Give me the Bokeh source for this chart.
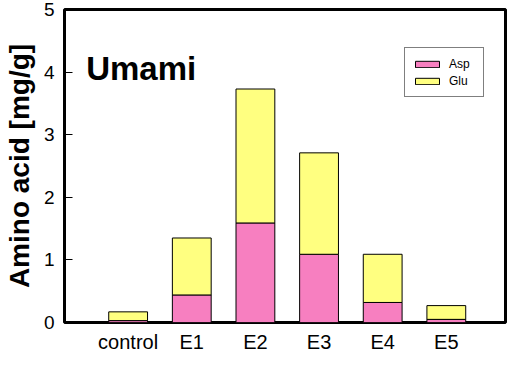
from bokeh.plotting import figure
from bokeh.models import ColumnDataSource, FixedTicker, Label, Range1d
from bokeh.embed import file_html
from bokeh.resources import INLINE

categories = ["control", "E1", "E2", "E3", "E4", "E5"]
asp = [0.03, 0.44, 1.59, 1.09, 0.32, 0.05]
glu = [0.14, 0.91, 2.14, 1.62, 0.77, 0.22]
y_ticks = [0, 1, 2, 3, 4, 5]

xpos = list(range(1, len(categories) + 1))
src = ColumnDataSource(dict(x=xpos, Asp=asp, Glu=glu))

FONT = "Liberation Sans"
PINK = "#F77FC0"
YELLOW = "#FFFF80"

p = figure(width=507, height=355, output_backend="svg", toolbar_location=None,
           x_range=Range1d(0, 6.93), y_range=Range1d(0, 5),
           min_border_left=55, min_border_right=2, min_border_top=9, min_border_bottom=29)

p.vbar_stack(["Asp", "Glu"], x="x", width=0.61, source=src,
             fill_color=[PINK, YELLOW], line_color="black", line_width=1,
             legend_label=["Asp", "Glu"])

p.xgrid.visible = False
p.ygrid.visible = False
p.outline_line_color = "black"
p.outline_line_width = 3
p.background_fill_color = "white"
p.border_fill_color = "white"

xa = p.xaxis[0]
xa.axis_label = None
xa.ticker = FixedTicker(ticks=xpos)
xa.major_label_overrides = {i: c for i, c in zip(xpos, categories)}
xa.major_tick_line_color = None
xa.major_tick_in = 0
xa.major_tick_out = 0
xa.minor_tick_line_color = None
xa.minor_tick_in = 0
xa.minor_tick_out = 0
xa.axis_line_color = None
xa.axis_label_standoff = 0
xa.major_label_text_font = FONT
xa.major_label_text_font_size = "20px"
xa.major_label_text_color = "black"
xa.major_label_standoff = 8

ya = p.yaxis[0]
ya.ticker = FixedTicker(ticks=y_ticks)
ya.major_tick_in = 8
ya.major_tick_out = 0
ya.major_tick_line_width = 1
ya.minor_tick_line_color = None
ya.minor_tick_out = 0
ya.axis_line_color = None
ya.major_label_text_font = FONT
ya.major_label_text_font_size = "19px"
ya.major_label_text_color = "black"
ya.major_label_standoff = 10
ya.axis_label = "Amino acid [mg/g]"
ya.axis_label_text_font = FONT
ya.axis_label_text_font_size = "28px"
ya.axis_label_text_font_style = "bold"
ya.axis_label_text_color = "black"
ya.axis_label_standoff = 6

title = Label(x=0.34, y=4.05, text="Umami", text_font=FONT, text_font_size="33px",
              text_font_style="bold", text_color="black", text_baseline="alphabetic")
p.add_layout(title)

lg = p.legend[0]
lg.location = (340, 225)
lg.border_line_color = "black"
lg.border_line_width = 1
lg.background_fill_alpha = 1
lg.padding = 7
lg.margin = 0
lg.spacing = 0
lg.glyph_width = 30
lg.glyph_height = 8
lg.label_height = 17
lg.label_width = 27
lg.label_standoff = 7
lg.label_text_font = FONT
lg.label_text_font_size = "12px"
lg.label_text_color = "black"

open("out.html", "w").write(file_html(p, INLINE))
